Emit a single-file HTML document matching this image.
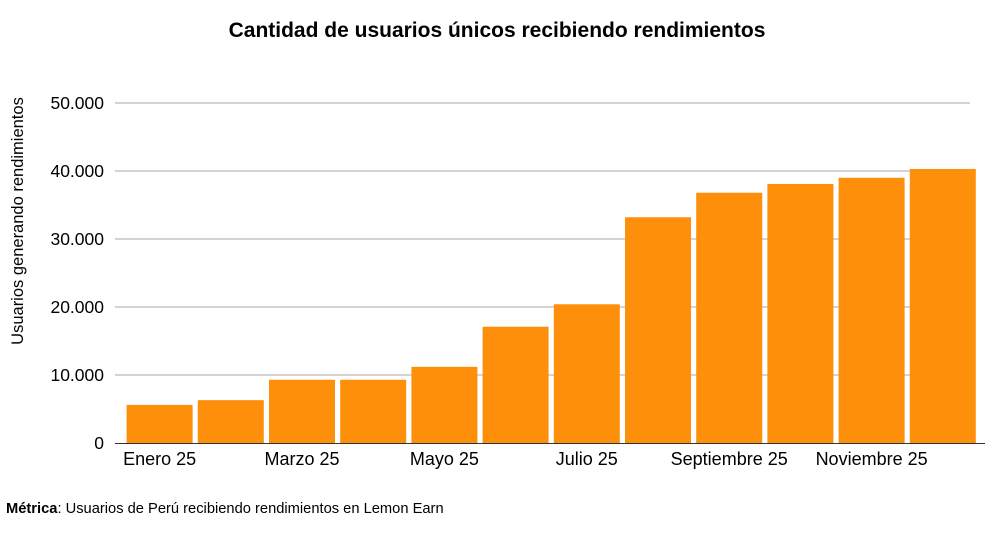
<!DOCTYPE html>
<html><head><meta charset="utf-8"><style>
body{margin:0;background:#fff;width:1000px;height:542px;overflow:hidden;font-family:"Liberation Sans",sans-serif;}
</style></head><body>
<svg id="chart" width="1000" height="542" xmlns="http://www.w3.org/2000/svg">
<text x="497" y="37" text-anchor="middle" font-size="21" font-weight="bold" fill="#000">Cantidad de usuarios únicos recibiendo rendimientos</text>
<text transform="translate(23,221) rotate(-90)" text-anchor="middle" font-size="16.5" fill="#000">Usuarios generando rendimientos</text>
<text x="6" y="513" font-size="14.7" fill="#000"><tspan font-weight="bold">Métrica</tspan>: Usuarios de Perú recibiendo rendimientos en Lemon Earn</text>
<g id="grid"></g><g id="bars"></g><g id="xlabels"></g>
</svg>
<script>
const categories=["Enero 25","Febrero 25","Marzo 25","Abril 25","Mayo 25","Junio 25","Julio 25","Agosto 25","Septiembre 25","Octubre 25","Noviembre 25","Diciembre 25"];
const values=[5600,6300,9300,9300,11200,17100,20400,33200,36800,38100,39000,40300];
const yTicks=[0,10000,20000,30000,40000,50000];
const yTickLabels=["0","10.000","20.000","30.000","40.000","50.000"];
const NS="http://www.w3.org/2000/svg";
const y0=443,yTop=103,yMax=50000;
const yScale=v=>y0-(v/yMax)*(y0-yTop);
const slotStart=124,slotW=71.2,barW=66;
const xScale=i=>slotStart+i*slotW+(slotW-barW)/2;
const grid=document.getElementById('grid'),bars=document.getElementById('bars'),xl=document.getElementById('xlabels');
yTicks.forEach((t,i)=>{
  const y=yScale(t);
  if(t>0){const l=document.createElementNS(NS,'line');
  l.setAttribute('x1',115);l.setAttribute('x2',970);l.setAttribute('y1',y);l.setAttribute('y2',y);
  l.setAttribute('stroke','#aaa');l.setAttribute('stroke-width','1');
  
  
  grid.appendChild(l);}
  const tx=document.createElementNS(NS,'text');
  tx.setAttribute('x',104);tx.setAttribute('y',y+6);tx.setAttribute('text-anchor','end');tx.setAttribute('font-size','17.5');
  tx.textContent=yTickLabels[i];
  
  
  grid.appendChild(tx);
});
values.forEach((v,i)=>{
  const r=document.createElementNS(NS,'rect');
  r.setAttribute('x',xScale(i));r.setAttribute('y',yScale(v));r.setAttribute('width',barW);r.setAttribute('height',y0-yScale(v));
  r.setAttribute('fill','#FD8F0B');
  
  
  bars.appendChild(r);
  if(i%2===0){
    const tx=document.createElementNS(NS,'text');
    tx.setAttribute('x',xScale(i)+barW/2);tx.setAttribute('y',465);tx.setAttribute('text-anchor','middle');tx.setAttribute('font-size','18');
    tx.textContent=categories[i];
    
    
    xl.appendChild(tx);
  }
});
const ax=document.createElementNS(NS,'line');
ax.setAttribute('x1',115);ax.setAttribute('x2',985);ax.setAttribute('y1',y0+0.5);ax.setAttribute('y2',y0+0.5);ax.setAttribute('stroke','#333');


xl.appendChild(ax);
</script>
</body></html>
